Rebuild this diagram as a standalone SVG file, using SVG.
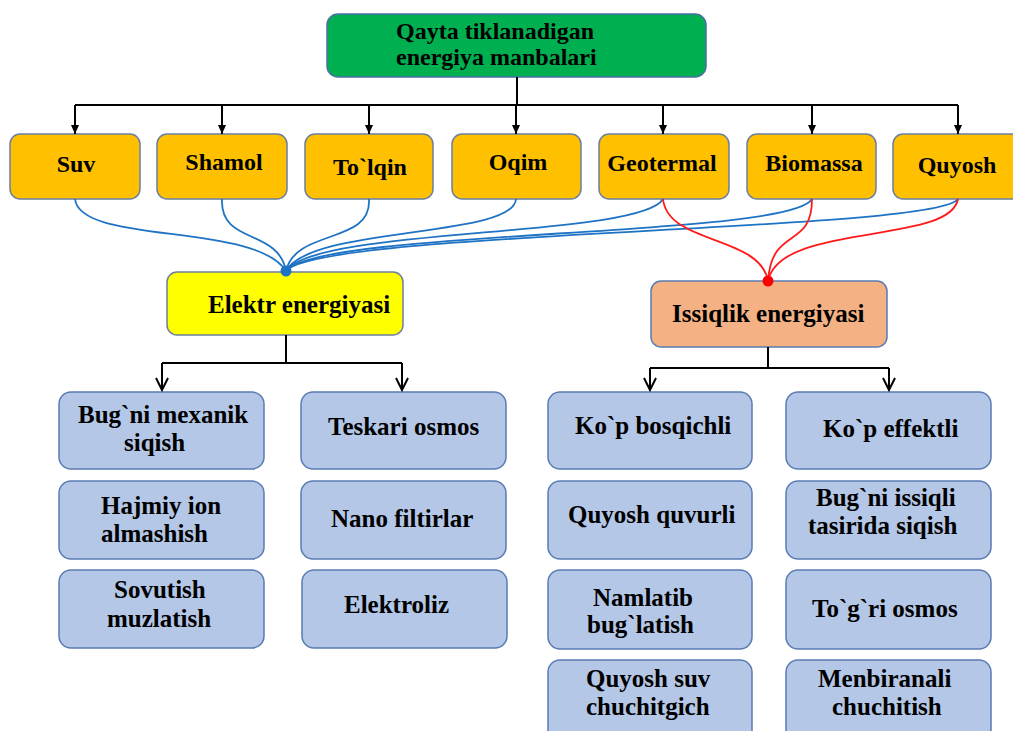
<svg xmlns="http://www.w3.org/2000/svg" width="1013" height="731" viewBox="0 0 1013 731">
<style>
text{font-family:"Liberation Serif","Times New Roman",serif;font-weight:bold;fill:#000}
.t24{font-size:24px}
.t25{font-size:25px}
.mid{text-anchor:middle}
.src{fill:#ffc000;stroke:#6b7f9e;stroke-width:1.5}
.leaf{fill:#b4c7e7;stroke:#5a7bb3;stroke-width:1.5}
.k{stroke:#000;stroke-width:2;fill:none}
.blue{stroke:#1f73c4;stroke-width:1.8;fill:none}
.red{stroke:#ff1a1a;stroke-width:1.8;fill:none}
</style>
<defs>
<marker id="tri" markerWidth="10" markerHeight="10" refX="9" refY="5" orient="auto" viewBox="0 0 10 10" markerUnits="userSpaceOnUse">
<path d="M0,1 L9,5 L0,9 Z" fill="#000"/>
</marker>
<marker id="chev" markerWidth="16" markerHeight="16" refX="14" refY="8" orient="auto" viewBox="0 0 16 16" markerUnits="userSpaceOnUse">
<path d="M2,2 L14,8 L2,14" fill="none" stroke="#000" stroke-width="2"/>
</marker>
</defs>
<rect width="1013" height="731" fill="#fff"/>

<g id="root">
<rect x="327" y="14" width="379" height="63" rx="11" fill="#00b050" stroke="#4a6fa5" stroke-width="1.5"/>
<text class="t24" x="396" y="39">Qayta tiklanadigan</text>
<text class="t24" x="396" y="65">energiya manbalari</text>
</g>

<g id="suv"><rect class="src" x="10" y="134" width="130" height="65" rx="10"/><text class="t24 mid" x="76" y="172">Suv</text></g>
<g id="shamol"><rect class="src" x="157" y="134" width="130" height="65" rx="10"/><text class="t24 mid" x="224" y="170">Shamol</text></g>
<g id="tolqin"><rect class="src" x="305" y="134" width="128" height="65" rx="10"/><text class="t24 mid" x="370" y="175">To`lqin</text></g>
<g id="oqim"><rect class="src" x="452" y="134" width="129" height="65" rx="10"/><text class="t24 mid" x="518" y="170">Oqim</text></g>
<g id="geotermal"><rect class="src" x="599" y="134" width="130" height="65" rx="10"/><text class="t24 mid" x="662" y="171">Geotermal</text></g>
<g id="biomassa"><rect class="src" x="747" y="134" width="129" height="65" rx="10"/><text class="t24 mid" x="814" y="171">Biomassa</text></g>
<g id="quyosh"><rect class="src" x="893" y="134" width="130" height="65" rx="10"/><text class="t24 mid" x="957" y="173">Quyosh</text></g>

<g id="elektr"><rect x="167" y="272" width="236" height="63" rx="10" fill="#ffff00" stroke="#6b7f9e" stroke-width="1.5"/><text class="t25" x="208" y="313">Elektr energiyasi</text></g>
<g id="issiqlik"><rect x="651" y="281" width="236" height="66" rx="10" fill="#f4b183" stroke="#5a7bb3" stroke-width="1.5"/><text class="t25" x="672" y="322">Issiqlik energiyasi</text></g>

<g id="bugni-mexanik"><rect class="leaf" x="59" y="392" width="205" height="77" rx="12"/><text class="t25" x="78" y="423">Bug`ni mexanik</text><text class="t25" x="124" y="451">siqish</text></g>
<g id="hajmiy-ion"><rect class="leaf" x="59" y="481" width="205" height="78" rx="12"/><text class="t25" x="101" y="514">Hajmiy ion</text><text class="t25" x="101" y="542">almashish</text></g>
<g id="sovutish"><rect class="leaf" x="59" y="570" width="205" height="78" rx="12"/><text class="t25" x="114" y="598">Sovutish</text><text class="t25" x="107" y="627">muzlatish</text></g>

<g id="teskari-osmos"><rect class="leaf" x="301" y="392" width="205" height="77" rx="12"/><text class="t25" x="328" y="435">Teskari osmos</text></g>
<g id="nano-filtirlar"><rect class="leaf" x="301" y="481" width="205" height="78" rx="12"/><text class="t25" x="331" y="527">Nano filtirlar</text></g>
<g id="elektroliz"><rect class="leaf" x="302" y="570" width="205" height="78" rx="12"/><text class="t25" x="344" y="613">Elektroliz</text></g>

<g id="kop-bosqichli"><rect class="leaf" x="548" y="392" width="204" height="77" rx="12"/><text class="t25" x="575" y="434">Ko`p bosqichli</text></g>
<g id="quyosh-quvurli"><rect class="leaf" x="548" y="481" width="204" height="78" rx="12"/><text class="t25" x="568" y="523">Quyosh quvurli</text></g>
<g id="namlatib"><rect class="leaf" x="548" y="570" width="204" height="79" rx="12"/><text class="t25" x="593" y="606">Namlatib</text><text class="t25" x="587" y="633">bug`latish</text></g>
<g id="quyosh-suv"><rect class="leaf" x="548" y="660" width="204" height="90" rx="12"/><text class="t25" x="586" y="687">Quyosh suv</text><text class="t25" x="586" y="715">chuchitgich</text></g>

<g id="kop-effektli"><rect class="leaf" x="786" y="392" width="205" height="77" rx="12"/><text class="t25" x="823" y="437">Ko`p effektli</text></g>
<g id="bugni-issiqli"><rect class="leaf" x="786" y="481" width="205" height="78" rx="12"/><text class="t25" x="816" y="506">Bug`ni issiqli</text><text class="t25" x="808" y="534">tasirida siqish</text></g>
<g id="togri-osmos"><rect class="leaf" x="786" y="570" width="205" height="79" rx="12"/><text class="t25" x="812" y="617">To`g`ri osmos</text></g>
<g id="menbiranali"><rect class="leaf" x="786" y="660" width="205" height="90" rx="12"/><text class="t25" x="818" y="687">Menbiranali</text><text class="t25" x="832" y="715">chuchitish</text></g>

<g id="connectors">
<path class="k" d="M517,77 V105 M75,105 H958"/>
<path class="k" d="M75,105 V134" marker-end="url(#tri)"/>
<path class="k" d="M222,105 V134" marker-end="url(#tri)"/>
<path class="k" d="M369,105 V134" marker-end="url(#tri)"/>
<path class="k" d="M516,105 V134" marker-end="url(#tri)"/>
<path class="k" d="M663,105 V134" marker-end="url(#tri)"/>
<path class="k" d="M812,105 V134" marker-end="url(#tri)"/>
<path class="k" d="M958,105 V134" marker-end="url(#tri)"/>

<path class="blue" d="M75,199 C80,245 255,222 286,271"/>
<path class="blue" d="M222,199 C220,245 278,228 286,271"/>
<path class="blue" d="M369,199 C372,245 296,228 286,271"/>
<path class="blue" d="M516,199 C514,238 310,226 286,271"/>
<path class="blue" d="M663,199 C640,238 315,227 286,271"/>
<path class="blue" d="M812,199 C790,238 318,229 286,271"/>
<path class="blue" d="M958,199 C935,232 320,230 286,271"/>
<circle cx="286" cy="271" r="5.5" fill="#1f73c4"/>

<path class="red" d="M663,199 C668,245 760,235 768,281"/>
<path class="red" d="M812,199 C812,250 772,225 768,281"/>
<path class="red" d="M958,199 C950,245 780,222 768,281"/>
<circle cx="768" cy="281" r="5.5" fill="#ff0000"/>

<path class="k" d="M286,335 V363 M162,363 H402"/>
<path class="k" d="M162,363 V390" marker-end="url(#chev)"/>
<path class="k" d="M402,363 V390" marker-end="url(#chev)"/>
<path class="k" d="M768,347 V368 M650,368 H889"/>
<path class="k" d="M650,368 V390" marker-end="url(#chev)"/>
<path class="k" d="M889,368 V390" marker-end="url(#chev)"/>
</g>
</svg>
